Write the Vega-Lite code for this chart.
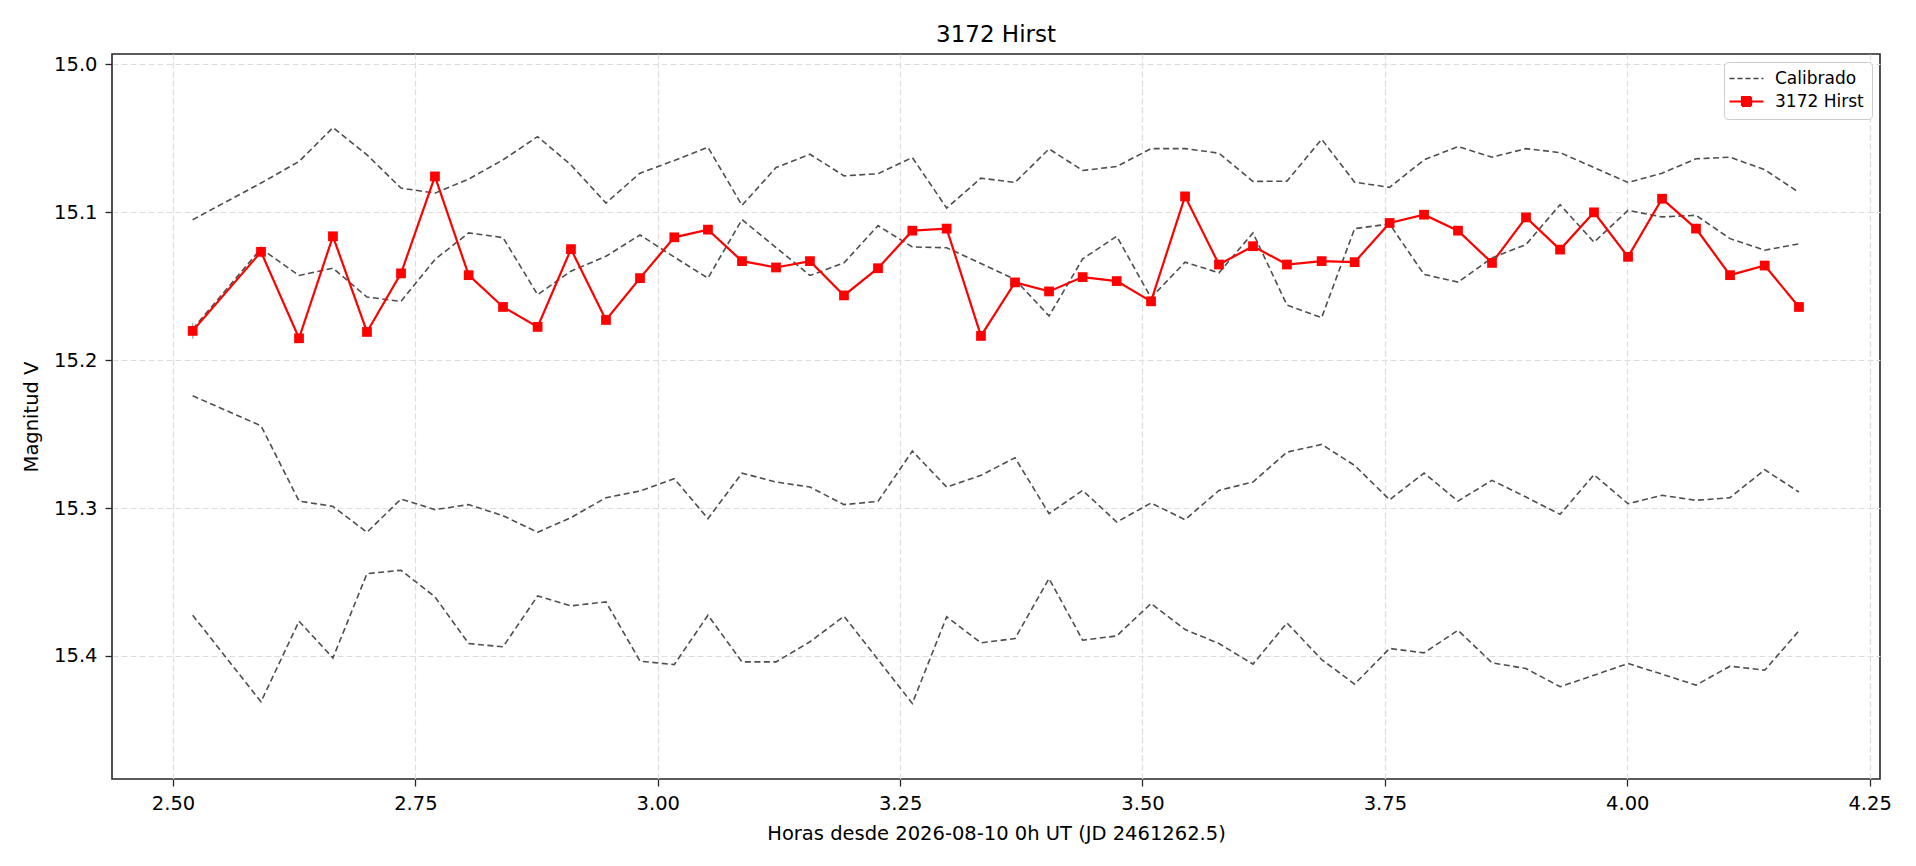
{
  "$schema": "https://vega.github.io/schema/vega-lite/v6.json",
  "autosize": {"type": "none"},
  "width": 1768,
  "height": 725,
  "padding": {"left": 112, "top": 54, "right": 36, "bottom": 87},
  "background": "white",
  "title": {
    "text": "3172 Hirst",
    "font": "DejaVu Sans",
    "fontSize": 23,
    "fontWeight": "normal",
    "color": "black",
    "anchor": "middle",
    "baseline": "alphabetic",
    "offset": -11
  },
  "datasets": {
    "cal": [
      {"t": 2.5203, "star": "C1", "m": 15.1050}, {"t": 2.5908, "star": "C1", "m": 15.0802}, {"t": 2.6300, "star": "C1", "m": 15.0656},
      {"t": 2.6650, "star": "C1", "m": 15.0427}, {"t": 2.7001, "star": "C1", "m": 15.0611}, {"t": 2.7352, "star": "C1", "m": 15.0836},
      {"t": 2.7702, "star": "C1", "m": 15.0870}, {"t": 2.8050, "star": "C1", "m": 15.0775}, {"t": 2.8404, "star": "C1", "m": 15.0645},
      {"t": 2.8761, "star": "C1", "m": 15.0488}, {"t": 2.9105, "star": "C1", "m": 15.0679}, {"t": 2.9466, "star": "C1", "m": 15.0937},
      {"t": 2.9817, "star": "C1", "m": 15.0735}, {"t": 3.0171, "star": "C1", "m": 15.0649}, {"t": 3.0518, "star": "C1", "m": 15.0560},
      {"t": 3.0869, "star": "C1", "m": 15.0953}, {"t": 3.1220, "star": "C1", "m": 15.0697}, {"t": 3.1570, "star": "C1", "m": 15.0607},
      {"t": 3.1921, "star": "C1", "m": 15.0753}, {"t": 3.2272, "star": "C1", "m": 15.0739}, {"t": 3.2626, "star": "C1", "m": 15.0629},
      {"t": 3.2980, "star": "C1", "m": 15.0971}, {"t": 3.3334, "star": "C1", "m": 15.0769}, {"t": 3.3685, "star": "C1", "m": 15.0798},
      {"t": 3.4036, "star": "C1", "m": 15.0571}, {"t": 3.4383, "star": "C1", "m": 15.0717}, {"t": 3.4734, "star": "C1", "m": 15.0690},
      {"t": 3.5088, "star": "C1", "m": 15.0569}, {"t": 3.5439, "star": "C1", "m": 15.0569}, {"t": 3.5789, "star": "C1", "m": 15.0600},
      {"t": 3.6140, "star": "C1", "m": 15.0791}, {"t": 3.6490, "star": "C1", "m": 15.0789}, {"t": 3.6848, "star": "C1", "m": 15.0506},
      {"t": 3.7188, "star": "C1", "m": 15.0796}, {"t": 3.7549, "star": "C1", "m": 15.0831}, {"t": 3.7904, "star": "C1", "m": 15.0645},
      {"t": 3.8254, "star": "C1", "m": 15.0555}, {"t": 3.8605, "star": "C1", "m": 15.0627}, {"t": 3.8956, "star": "C1", "m": 15.0569},
      {"t": 3.9307, "star": "C1", "m": 15.0596}, {"t": 3.9657, "star": "C1", "m": 15.0697}, {"t": 4.0008, "star": "C1", "m": 15.0798},
      {"t": 4.0359, "star": "C1", "m": 15.0735}, {"t": 4.0709, "star": "C1", "m": 15.0638}, {"t": 4.1060, "star": "C1", "m": 15.0627},
      {"t": 4.1418, "star": "C1", "m": 15.0712}, {"t": 4.1771, "star": "C1", "m": 15.0865},

      {"t": 2.5203, "star": "C2", "m": 15.1790}, {"t": 2.5908, "star": "C2", "m": 15.1245}, {"t": 2.6300, "star": "C2", "m": 15.1427},
      {"t": 2.6650, "star": "C2", "m": 15.1378}, {"t": 2.7001, "star": "C2", "m": 15.1573}, {"t": 2.7352, "star": "C2", "m": 15.1602},
      {"t": 2.7702, "star": "C2", "m": 15.1319}, {"t": 2.8050, "star": "C2", "m": 15.1139}, {"t": 2.8404, "star": "C2", "m": 15.1171},
      {"t": 2.8761, "star": "C2", "m": 15.1557}, {"t": 2.9105, "star": "C2", "m": 15.1398}, {"t": 2.9466, "star": "C2", "m": 15.1297},
      {"t": 2.9817, "star": "C2", "m": 15.1153}, {"t": 3.0171, "star": "C2", "m": 15.1303}, {"t": 3.0518, "star": "C2", "m": 15.1445},
      {"t": 3.0869, "star": "C2", "m": 15.1049}, {"t": 3.1220, "star": "C2", "m": 15.1238}, {"t": 3.1570, "star": "C2", "m": 15.1427},
      {"t": 3.1921, "star": "C2", "m": 15.1342}, {"t": 3.2272, "star": "C2", "m": 15.1090}, {"t": 3.2626, "star": "C2", "m": 15.1234},
      {"t": 3.2980, "star": "C2", "m": 15.1240}, {"t": 3.3334, "star": "C2", "m": 15.1346}, {"t": 3.3685, "star": "C2", "m": 15.1454},
      {"t": 3.4036, "star": "C2", "m": 15.1701}, {"t": 3.4383, "star": "C2", "m": 15.1315}, {"t": 3.4734, "star": "C2", "m": 15.1162},
      {"t": 3.5088, "star": "C2", "m": 15.1578}, {"t": 3.5439, "star": "C2", "m": 15.1337}, {"t": 3.5789, "star": "C2", "m": 15.1409},
      {"t": 3.6140, "star": "C2", "m": 15.1139}, {"t": 3.6490, "star": "C2", "m": 15.1627}, {"t": 3.6848, "star": "C2", "m": 15.1712},
      {"t": 3.7188, "star": "C2", "m": 15.1110}, {"t": 3.7549, "star": "C2", "m": 15.1079}, {"t": 3.7904, "star": "C2", "m": 15.1420},
      {"t": 3.8254, "star": "C2", "m": 15.1472}, {"t": 3.8605, "star": "C2", "m": 15.1308}, {"t": 3.8956, "star": "C2", "m": 15.1218},
      {"t": 3.9307, "star": "C2", "m": 15.0948}, {"t": 3.9657, "star": "C2", "m": 15.1202}, {"t": 4.0008, "star": "C2", "m": 15.0987},
      {"t": 4.0359, "star": "C2", "m": 15.1031}, {"t": 4.0709, "star": "C2", "m": 15.1020}, {"t": 4.1060, "star": "C2", "m": 15.1178},
      {"t": 4.1418, "star": "C2", "m": 15.1256}, {"t": 4.1771, "star": "C2", "m": 15.1213},

      {"t": 2.5203, "star": "C3", "m": 15.2241}, {"t": 2.5908, "star": "C3", "m": 15.2444}, {"t": 2.6300, "star": "C3", "m": 15.2953},
      {"t": 2.6650, "star": "C3", "m": 15.2989}, {"t": 2.7001, "star": "C3", "m": 15.3164}, {"t": 2.7352, "star": "C3", "m": 15.2939},
      {"t": 2.7702, "star": "C3", "m": 15.3011}, {"t": 2.8050, "star": "C3", "m": 15.2977}, {"t": 2.8404, "star": "C3", "m": 15.3052},
      {"t": 2.8761, "star": "C3", "m": 15.3164}, {"t": 2.9105, "star": "C3", "m": 15.3065}, {"t": 2.9466, "star": "C3", "m": 15.2930},
      {"t": 2.9817, "star": "C3", "m": 15.2885}, {"t": 3.0171, "star": "C3", "m": 15.2802}, {"t": 3.0518, "star": "C3", "m": 15.3072},
      {"t": 3.0869, "star": "C3", "m": 15.2764}, {"t": 3.1220, "star": "C3", "m": 15.2824}, {"t": 3.1570, "star": "C3", "m": 15.2858},
      {"t": 3.1921, "star": "C3", "m": 15.2977}, {"t": 3.2272, "star": "C3", "m": 15.2955}, {"t": 3.2626, "star": "C3", "m": 15.2615},
      {"t": 3.2980, "star": "C3", "m": 15.2858}, {"t": 3.3334, "star": "C3", "m": 15.2779}, {"t": 3.3685, "star": "C3", "m": 15.2660},
      {"t": 3.4036, "star": "C3", "m": 15.3038}, {"t": 3.4383, "star": "C3", "m": 15.2881}, {"t": 3.4734, "star": "C3", "m": 15.3095},
      {"t": 3.5088, "star": "C3", "m": 15.2966}, {"t": 3.5439, "star": "C3", "m": 15.3079}, {"t": 3.5789, "star": "C3", "m": 15.2881},
      {"t": 3.6140, "star": "C3", "m": 15.2824}, {"t": 3.6490, "star": "C3", "m": 15.2622}, {"t": 3.6848, "star": "C3", "m": 15.2570},
      {"t": 3.7188, "star": "C3", "m": 15.2712}, {"t": 3.7549, "star": "C3", "m": 15.2944}, {"t": 3.7904, "star": "C3", "m": 15.2764},
      {"t": 3.8254, "star": "C3", "m": 15.2953}, {"t": 3.8605, "star": "C3", "m": 15.2813}, {"t": 3.8956, "star": "C3", "m": 15.2926},
      {"t": 3.9307, "star": "C3", "m": 15.3043}, {"t": 3.9657, "star": "C3", "m": 15.2775}, {"t": 4.0008, "star": "C3", "m": 15.2971},
      {"t": 4.0359, "star": "C3", "m": 15.2914}, {"t": 4.0709, "star": "C3", "m": 15.2948}, {"t": 4.1060, "star": "C3", "m": 15.2930},
      {"t": 4.1418, "star": "C3", "m": 15.2741}, {"t": 4.1771, "star": "C3", "m": 15.2892},

      {"t": 2.5203, "star": "C4", "m": 15.3725}, {"t": 2.5908, "star": "C4", "m": 15.4311}, {"t": 2.6300, "star": "C4", "m": 15.3766},
      {"t": 2.6650, "star": "C4", "m": 15.4014}, {"t": 2.7001, "star": "C4", "m": 15.3444}, {"t": 2.7352, "star": "C4", "m": 15.3421},
      {"t": 2.7702, "star": "C4", "m": 15.3601}, {"t": 2.8050, "star": "C4", "m": 15.3917}, {"t": 2.8404, "star": "C4", "m": 15.3939},
      {"t": 2.8761, "star": "C4", "m": 15.3595}, {"t": 2.9105, "star": "C4", "m": 15.3662}, {"t": 2.9466, "star": "C4", "m": 15.3635},
      {"t": 2.9817, "star": "C4", "m": 15.4036}, {"t": 3.0171, "star": "C4", "m": 15.4059}, {"t": 3.0518, "star": "C4", "m": 15.3725},
      {"t": 3.0869, "star": "C4", "m": 15.4041}, {"t": 3.1220, "star": "C4", "m": 15.4041}, {"t": 3.1570, "star": "C4", "m": 15.3905},
      {"t": 3.1921, "star": "C4", "m": 15.3732}, {"t": 3.2272, "star": "C4", "m": 15.4025}, {"t": 3.2626, "star": "C4", "m": 15.4322},
      {"t": 3.2980, "star": "C4", "m": 15.3736}, {"t": 3.3334, "star": "C4", "m": 15.3912}, {"t": 3.3685, "star": "C4", "m": 15.3883},
      {"t": 3.4036, "star": "C4", "m": 15.3477}, {"t": 3.4383, "star": "C4", "m": 15.3894}, {"t": 3.4734, "star": "C4", "m": 15.3865},
      {"t": 3.5088, "star": "C4", "m": 15.3646}, {"t": 3.5439, "star": "C4", "m": 15.3822}, {"t": 3.5789, "star": "C4", "m": 15.3917},
      {"t": 3.6140, "star": "C4", "m": 15.4056}, {"t": 3.6490, "star": "C4", "m": 15.3777}, {"t": 3.6848, "star": "C4", "m": 15.4025},
      {"t": 3.7188, "star": "C4", "m": 15.4191}, {"t": 3.7549, "star": "C4", "m": 15.3950}, {"t": 3.7904, "star": "C4", "m": 15.3980},
      {"t": 3.8254, "star": "C4", "m": 15.3827}, {"t": 3.8605, "star": "C4", "m": 15.4047}, {"t": 3.8956, "star": "C4", "m": 15.4086},
      {"t": 3.9307, "star": "C4", "m": 15.4209}, {"t": 3.9657, "star": "C4", "m": 15.4131}, {"t": 4.0008, "star": "C4", "m": 15.4052},
      {"t": 4.0359, "star": "C4", "m": 15.4124}, {"t": 4.0709, "star": "C4", "m": 15.4198}, {"t": 4.1060, "star": "C4", "m": 15.4070},
      {"t": 4.1418, "star": "C4", "m": 15.4097}, {"t": 4.1771, "star": "C4", "m": 15.3831}
    ],
    "obj": [
      {"t": 2.5203, "m": 15.1802, "lo": 15.1750, "hi": 15.1854},
      {"t": 2.5908, "m": 15.1267, "lo": 15.1229, "hi": 15.1305},
      {"t": 2.6300, "m": 15.1852, "lo": 15.1822, "hi": 15.1882},
      {"t": 2.6650, "m": 15.1162, "lo": 15.1132, "hi": 15.1192},
      {"t": 2.7001, "m": 15.1809, "lo": 15.1779, "hi": 15.1839},
      {"t": 2.7352, "m": 15.1413, "lo": 15.1383, "hi": 15.1443},
      {"t": 2.7702, "m": 15.0757, "lo": 15.0727, "hi": 15.0787},
      {"t": 2.8050, "m": 15.1425, "lo": 15.1395, "hi": 15.1455},
      {"t": 2.8404, "m": 15.1640, "lo": 15.1610, "hi": 15.1670},
      {"t": 2.8761, "m": 15.1775, "lo": 15.1745, "hi": 15.1805},
      {"t": 2.9105, "m": 15.1249, "lo": 15.1219, "hi": 15.1279},
      {"t": 2.9466, "m": 15.1728, "lo": 15.1698, "hi": 15.1758},
      {"t": 2.9817, "m": 15.1445, "lo": 15.1415, "hi": 15.1475},
      {"t": 3.0171, "m": 15.1169, "lo": 15.1139, "hi": 15.1199},
      {"t": 3.0518, "m": 15.1117, "lo": 15.1087, "hi": 15.1147},
      {"t": 3.0869, "m": 15.1330, "lo": 15.1300, "hi": 15.1360},
      {"t": 3.1220, "m": 15.1373, "lo": 15.1343, "hi": 15.1403},
      {"t": 3.1570, "m": 15.1330, "lo": 15.1300, "hi": 15.1360},
      {"t": 3.1921, "m": 15.1562, "lo": 15.1532, "hi": 15.1592},
      {"t": 3.2272, "m": 15.1378, "lo": 15.1348, "hi": 15.1408},
      {"t": 3.2626, "m": 15.1124, "lo": 15.1094, "hi": 15.1154},
      {"t": 3.2980, "m": 15.1110, "lo": 15.1080, "hi": 15.1140},
      {"t": 3.3334, "m": 15.1836, "lo": 15.1806, "hi": 15.1866},
      {"t": 3.3685, "m": 15.1474, "lo": 15.1444, "hi": 15.1504},
      {"t": 3.4036, "m": 15.1535, "lo": 15.1505, "hi": 15.1565},
      {"t": 3.4383, "m": 15.1438, "lo": 15.1408, "hi": 15.1468},
      {"t": 3.4734, "m": 15.1465, "lo": 15.1435, "hi": 15.1495},
      {"t": 3.5088, "m": 15.1602, "lo": 15.1572, "hi": 15.1632},
      {"t": 3.5439, "m": 15.0892, "lo": 15.0862, "hi": 15.0922},
      {"t": 3.5789, "m": 15.1353, "lo": 15.1323, "hi": 15.1383},
      {"t": 3.6140, "m": 15.1229, "lo": 15.1199, "hi": 15.1259},
      {"t": 3.6490, "m": 15.1353, "lo": 15.1323, "hi": 15.1383},
      {"t": 3.6848, "m": 15.1330, "lo": 15.1300, "hi": 15.1360},
      {"t": 3.7188, "m": 15.1337, "lo": 15.1307, "hi": 15.1367},
      {"t": 3.7549, "m": 15.1072, "lo": 15.1042, "hi": 15.1102},
      {"t": 3.7904, "m": 15.1016, "lo": 15.0986, "hi": 15.1046},
      {"t": 3.8254, "m": 15.1124, "lo": 15.1094, "hi": 15.1154},
      {"t": 3.8605, "m": 15.1342, "lo": 15.1312, "hi": 15.1372},
      {"t": 3.8956, "m": 15.1034, "lo": 15.1004, "hi": 15.1064},
      {"t": 3.9307, "m": 15.1252, "lo": 15.1222, "hi": 15.1282},
      {"t": 3.9657, "m": 15.1000, "lo": 15.0970, "hi": 15.1030},
      {"t": 4.0008, "m": 15.1301, "lo": 15.1271, "hi": 15.1331},
      {"t": 4.0359, "m": 15.0908, "lo": 15.0878, "hi": 15.0938},
      {"t": 4.0709, "m": 15.1110, "lo": 15.1080, "hi": 15.1140},
      {"t": 4.1060, "m": 15.1425, "lo": 15.1395, "hi": 15.1455},
      {"t": 4.1418, "m": 15.1360, "lo": 15.1330, "hi": 15.1390},
      {"t": 4.1771, "m": 15.1640, "lo": 15.1610, "hi": 15.1670}
    ]
  },
  "encoding": {
    "x": {
      "field": "t",
      "type": "quantitative",
      "title": "Horas desde 2026-08-10 0h UT (JD 2461262.5)",
      "scale": {"domain": [2.4371, 4.2607], "nice": false, "zero": false},
      "axis": {"values": [2.5, 2.75, 3.0, 3.25, 3.5, 3.75, 4.0, 4.25], "format": ".2f", "labelPadding": 8, "titlePadding": 12}
    },
    "y": {
      "field": "m",
      "type": "quantitative",
      "title": "Magnitud V",
      "scale": {"domain": [14.9929, 15.4833], "reverse": true, "nice": false, "zero": false},
      "axis": {"values": [15.0, 15.1, 15.2, 15.3, 15.4], "format": ".1f", "labelPadding": 8, "titlePadding": 12}
    }
  },
  "layer": [
    {
      "data": {"name": "cal"},
      "mark": {"type": "line", "strokeDash": [6, 3.5], "strokeWidth": 1.6, "opacity": 0.95},
      "encoding": {
        "detail": {"field": "star"},
        "color": {
          "datum": "Calibrado",
          "scale": {"domain": ["Calibrado", "3172 Hirst"], "range": ["#444444", "#ff0000"]},
          "legend": {
            "title": null,
            "orient": "top-right",
            "offset": 8,
            "padding": 8,
            "rowPadding": 5,
            "symbolSize": 400,
            "symbolOffset": 6,
            "symbolType": "stroke",
            "labelFont": "DejaVu Sans",
            "labelFontSize": 17,
            "labelColor": "black",
            "labelOffset": 20,
            "strokeColor": "#cccccc",
            "fillColor": "white",
            "cornerRadius": 4,
            "encode": {
              "symbols": {
                "update": {
                  "shape": {"signal": "datum.value === 'Calibrado' ? 'M-1.7,0H1.7' : 'M-1.7,0H1.7M-0.45,-0.45H0.45V0.45H-0.45Z'"},
                  "fill": {"signal": "datum.value === 'Calibrado' ? 'transparent' : '#ff0000'"},
                  "strokeDash": {"signal": "datum.value === 'Calibrado' ? [5, 3] : [1, 0]"},
                  "strokeWidth": {"signal": "datum.value === 'Calibrado' ? 1.6 : 2.2"}
                }
              }
            }
          }
        }
      }
    },
    {
      "data": {"name": "obj"},
      "mark": {"type": "rule", "color": "#aaaaaa", "strokeWidth": 1.5},
      "encoding": {
        "y": {"field": "lo", "type": "quantitative"},
        "y2": {"field": "hi"}
      }
    },
    {
      "data": {"name": "obj"},
      "mark": {"type": "line", "strokeWidth": 2.2},
      "encoding": {
        "color": {
          "datum": "3172 Hirst",
          "legend": {
            "title": null,
            "orient": "top-right",
            "offset": 8,
            "padding": 8,
            "rowPadding": 5,
            "symbolSize": 400,
            "symbolOffset": 6,
            "symbolType": "stroke",
            "labelFont": "DejaVu Sans",
            "labelFontSize": 17,
            "labelColor": "black",
            "labelOffset": 20,
            "strokeColor": "#cccccc",
            "fillColor": "white",
            "cornerRadius": 4,
            "encode": {
              "symbols": {
                "update": {
                  "shape": {"signal": "datum.value === 'Calibrado' ? 'M-1.7,0H1.7' : 'M-1.7,0H1.7M-0.45,-0.45H0.45V0.45H-0.45Z'"},
                  "fill": {"signal": "datum.value === 'Calibrado' ? 'transparent' : '#ff0000'"},
                  "strokeDash": {"signal": "datum.value === 'Calibrado' ? [5, 3] : [1, 0]"},
                  "strokeWidth": {"signal": "datum.value === 'Calibrado' ? 1.6 : 2.2"}
                }
              }
            }
          }
        }
      }
    },
    {
      "data": {"name": "obj"},
      "mark": {"type": "point", "shape": "square", "filled": true, "size": 95, "color": "#ff0000", "opacity": 1}
    }
  ],
  "config": {
    "view": {"stroke": "#262626", "strokeWidth": 1.6},
    "font": "DejaVu Sans",
    "axis": {
      "domain": false,
      "grid": true,
      "gridColor": "#dddddd",
      "gridDash": [6, 3],
      "gridWidth": 1.2,
      "ticks": true,
      "tickColor": "#262626",
      "tickSize": 7,
      "tickWidth": 1.3,
      "labelFont": "DejaVu Sans",
      "labelFontSize": 19.5,
      "labelColor": "black",
      "titleFont": "DejaVu Sans",
      "titleFontSize": 19.5,
      "titleFontWeight": "normal",
      "titleColor": "black"
    }
  }
}
